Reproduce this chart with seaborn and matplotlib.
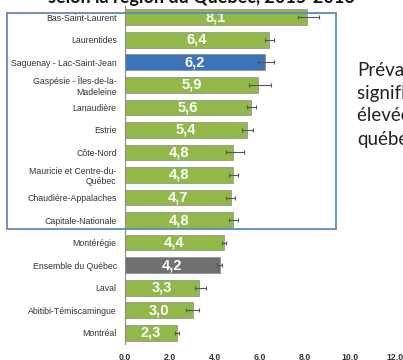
import numpy as np
import pandas as pd
import matplotlib
matplotlib.use("Agg")
import matplotlib.pyplot as plt
from matplotlib.patches import Rectangle
import seaborn as sns

sns.set_style("white")
plt.rcParams['font.family'] = ['Liberation Sans', 'DejaVu Sans']

# données
regions = ["Bas-Saint-Laurent", "Laurentides", "Saguenay - Lac-Saint-Jean",
           "Gaspésie - Îles-de-la-\nMadeleine", "Lanaudière", "Estrie", "Côte-Nord",
           "Mauricie et Centre-du-\nQuébec", "Chaudière-Appalaches", "Capitale-Nationale",
           "Montérégie", "Ensemble du Québec", "Laval", "Abitibi-Témiscamingue", "Montréal"]
valeurs = [8.1, 6.4, 6.2, 5.9, 5.6, 5.4, 4.8, 4.8, 4.7, 4.8, 4.4, 4.2, 3.3, 3.0, 2.3]
ic_bas = [7.7, 6.2, 5.9, 5.5, 5.4, 5.2, 4.5, 4.6, 4.5, 4.6, 4.3, 4.1, 3.1, 2.7, 2.2]
ic_haut = [8.6, 6.6, 6.6, 6.5, 5.8, 5.7, 5.3, 5.0, 4.9, 5.0, 4.5, 4.3, 3.6, 3.3, 2.4]
x_ticks = [0, 2, 4, 6, 8, 10, 12]

vert = "#92B84A"
couleurs = [vert] * len(regions)
couleurs[2] = "#3D73B9"   # Saguenay
couleurs[11] = "#707070"  # ensemble du Québec

df = pd.DataFrame({"region": regions, "valeur": valeurs})

fig = plt.figure(figsize=(4.03, 3.6), dpi=100)
ax = fig.add_axes([125 / 403, 16 / 360, 270 / 403, 338 / 360])

sns.barplot(data=df, x="valeur", y="region", hue="region", palette=couleurs,
            legend=False, orient="h", width=0.7, saturation=1, ax=ax,
            edgecolor="#8a8a8a", linewidth=0.5)

v = np.array(valeurs)
ax.errorbar(v, np.arange(len(v)), xerr=[v - np.array(ic_bas), np.array(ic_haut) - v],
            fmt="none", ecolor="#555555", elinewidth=0.8, capsize=1.5, capthick=0.8)

for i, val in enumerate(valeurs):
    ax.text(val / 2, i, f"{val:.1f}".replace(".", ","), ha="center", va="center",
            color="white", fontsize=10.5, fontweight="bold")

ax.set_xlim(0, 12)
ax.set_ylim(len(regions) - 0.5, -0.5)
ax.set_xticks(x_ticks)
ax.set_xticklabels([f"{t:.1f}".replace(".", ",") for t in x_ticks],
                   fontsize=6.3, fontweight="bold", color="#333333")
ax.set_xlabel("")
ax.set_ylabel("")
ax.tick_params(axis="y", length=0, labelsize=6.3, labelcolor="#333333", pad=6)
ax.tick_params(axis="x", length=0, pad=6)
ax.set_yticks(np.arange(-0.5, len(regions), 1), minor=True)
ax.tick_params(axis="y", which="minor", length=3, color="#888888", width=0.8)
for s in ["top", "right", "bottom"]:
    ax.spines[s].set_visible(False)
ax.spines["left"].set_color("#888888")
ax.spines["left"].set_linewidth(0.8)

# titre coupé et texte de la diapositive
fig.text(0.5, 1 - 3 / 360, "selon la région du Québec, 2015-2016", ha="center",
         va="baseline", fontsize=13, fontweight="bold", family="Lato", color="#111111")
lignes = ["Prévalence", "significativement plus", "élevée que l'ensemble", "québécois"]
for k, l in enumerate(lignes):
    fig.text(357 / 403, 1 - (70 + 23 * k) / 360, l, ha="left", va="center",
             fontsize=13.5, family="Lato", color="#222222")

fig.patches.append(Rectangle((7 / 403, 1 - 229 / 360), 329 / 403, 216 / 360,
                             transform=fig.transFigure, fill=False,
                             edgecolor="#5B8AC0", linewidth=1.3))

fig.savefig("out.png", dpi=100)
